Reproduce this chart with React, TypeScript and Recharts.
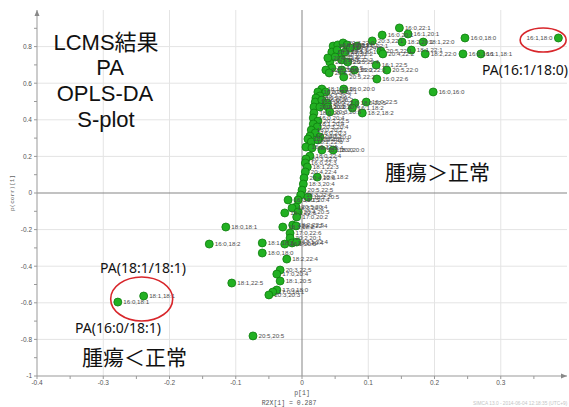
import React from 'react';
import { ScatterChart, Scatter, XAxis, YAxis, ReferenceLine, ReferenceDot } from 'recharts';

// lipid species (fatty acid pairs) of PA, in the order they are plotted
const lipidLabels = [
  '16:1,18:0', '16:0,18:0', '16:0,16:1', '16:1,18:1', '16:0,16:0',
  '16:0,22:1', '16:1,20:1', '16:0,20:1', '18:2,20:1', '18:1,22:0',
  '20:3,22:1', '18:1,22:1', '18:2,22:0', '20:5,22:1', '20:4,22:2',
  '16:1,22:5', '20:5,22:0', '16:0,22:6', '20:5,22:2', '16:0,22:2',
  '18:0,22:1', '20:4,20:1', '18:1,20:1', '20:3,22:0', '22:6,22:1',
  '18:2,22:1', '20:4,22:1', '18:0,22:2', '22:6,22:2', '20:4,22:5',
  '18:1,22:2', '20:3,22:4', '18:2,22:2', '22:5,22:1', '20:1,22:6',
  '18:0,20:1', '16:0,24:1', '22:6,20:4', '20:5,20:1', '18:0,20:0',
  '18:1,20:0', '16:0,20:0', '20:0,22:1', '18:2,20:2', '16:0,22:0',
  '18:1,20:2', '16:0,20:2', '18:0,22:0', '18:0,22:5', '16:0,22:5',
  '20:2,20:2', '18:1,20:3', '20:1,20:4', '16:1,18:2', '18:2,18:2',
  '18:0,20:3', '20:3,20:5', '16:0,20:4', '20:2,22:5', '18:1,20:4',
  '20:3,20:4', '18:0,20:2', '16:0,20:3', '18:2,20:3', '20:2,20:0',
  '18:0,22:6', '18:1,22:6', '20:4,20:3', '16:0,22:4', '18:1,22:4',
  '20:1,20:0', '18:2,20:0', '18:0,22:4', '20:3,22:3', '16:0,22:3',
  '18:1,22:3', '20:4,22:4', '18:0,18:2', '20:4,22:6', '18:3,20:4',
  '20:5,22:5', '18:3,22:6', '18:2,20:5', '16:1,20:4', '16:0,20:5',
  '20:5,20:4', '18:3,20:3', '16:1,22:6', '20:4,20:5', '17:0,20:2',
  '18:3,18:2', '18:2,22:5', '20:2,22:4', '17:0,22:6', '20:2,20:1',
  '16:1,20:5', '18:2,20:4', '17:1,22:4', '18:2,22:4', '18:1,18:2',
  '18:0,18:0', '20:3,22:5', '17:0,20:4', '18:1,20:5', '17:0,18:0',
  '17:0,18:1', '20:3,20:3', '18:0,18:1', '16:0,18:2', '18:1,22:5',
  '20:5,20:5', '18:1,18:1', '16:0,18:1',
];

// p[1]
const p1Values = [
  0.387, 0.246, 0.243, 0.270, 0.198,
  0.147, 0.160, 0.121, 0.151, 0.183,
  0.106, 0.165, 0.186, 0.119, 0.122,
  0.112, 0.128, 0.113, 0.063, 0.079,
  0.083, 0.047, 0.054, 0.062, 0.068,
  0.045, 0.053, 0.060, 0.042, 0.045,
  0.060, 0.069, 0.060, 0.050, 0.039,
  0.065, 0.073, 0.036, 0.041, 0.063,
  0.030, 0.024, 0.036, 0.027, 0.021,
  0.020, 0.030, 0.038, 0.080, 0.097,
  0.018, 0.027, 0.039, 0.076, 0.091,
  0.018, 0.042, 0.017, 0.024, 0.017,
  0.023, 0.014, 0.020, 0.012, 0.027,
  0.009, 0.014, 0.024, 0.006, 0.015,
  0.030, 0.047, 0.012, 0.006, 0.005,
  0.008, 0.005, 0.023, 0.003, 0.002,
  0.000, -0.002, 0.009, -0.006, -0.021,
  -0.009, -0.015, -0.026, -0.006, -0.008,
  -0.029, -0.014, -0.009, -0.018, -0.018,
  -0.026, -0.015, -0.008, -0.023, -0.060,
  -0.060, -0.033, -0.038, -0.033, -0.038,
  -0.044, -0.050, -0.115, -0.140, -0.106,
  -0.074, -0.239, -0.278,
];

// p(corr)[1]
const pcorrValues = [
  0.847, 0.847, 0.760, 0.760, 0.552,
  0.902, 0.869, 0.863, 0.825, 0.825,
  0.831, 0.781, 0.760, 0.776, 0.760,
  0.699, 0.672, 0.623, 0.634, 0.672,
  0.803, 0.803, 0.809, 0.820, 0.809,
  0.770, 0.781, 0.760, 0.716, 0.683,
  0.727, 0.716, 0.672, 0.743, 0.738,
  0.770, 0.792, 0.672, 0.656, 0.568,
  0.568, 0.552, 0.552, 0.530, 0.519,
  0.497, 0.508, 0.492, 0.492, 0.497,
  0.470, 0.470, 0.470, 0.464, 0.437,
  0.437, 0.443, 0.410, 0.393, 0.377,
  0.361, 0.344, 0.328, 0.311, 0.306,
  0.295, 0.279, 0.290, 0.251, 0.246,
  0.235, 0.235, 0.202, 0.186, 0.164,
  0.142, 0.115, 0.087, 0.082, 0.049,
  0.016, -0.011, -0.022, -0.038, -0.038,
  -0.077, -0.082, -0.109, -0.104, -0.131,
  -0.186, -0.175, -0.180, -0.219, -0.246,
  -0.279, -0.273, -0.268, -0.361, -0.273,
  -0.328, -0.421, -0.443, -0.481, -0.530,
  -0.541, -0.557, -0.186, -0.279, -0.492,
  -0.781, -0.563, -0.596,
];

const xTicks = [-0.4, -0.35, -0.3, -0.25, -0.2, -0.15, -0.1, -0.05, 0, 0.05, 0.1, 0.15, 0.2, 0.25, 0.3, 0.35];
const yTicks = [-1, -0.9, -0.8, -0.7, -0.6, -0.5, -0.4, -0.3, -0.2, -0.1, 0, 0.1, 0.2, 0.3, 0.4, 0.5, 0.6, 0.7, 0.8, 0.9];
const xGrid = [-0.3, -0.2, -0.1, 0.1, 0.2, 0.3];
const yGrid = [-0.8, -0.6, -0.4, -0.2, 0.2, 0.4, 0.6, 0.8];

const data = lipidLabels.map((label, i) => ({ label, x: p1Values[i], y: pcorrValues[i] }));

const fmtX = (v: number) => (Math.round(v * 100) % 10 === 0 ? String(Math.round(v * 10) / 10) : '');
const fmtY = (v: number) => (Math.round(v * 10) % 2 === 0 ? String(Math.round(v * 10) / 10) : '');

const Dot = (props: any) => (
  <circle cx={props.cx} cy={props.cy} r={4} fill="#22b022" stroke="#0f7d0f" strokeWidth={0.8} />
);

const Tag = (props: any) => {
  // the right-most point gets its name on the left so it stays inside
  const left = props.payload.x > 0.35;
  return (
    <text
      x={left ? props.cx - 6 : props.cx + 5.5}
      y={props.cy + 2.2}
      fontSize={6.2}
      fill="#4d4d4d"
      textAnchor={left ? 'end' : 'start'}
    >
      {props.payload.label}
    </text>
  );
};

const ring = (rx: number, ry: number) => (props: any) => (
  <ellipse cx={props.cx} cy={props.cy} rx={rx} ry={ry} fill="none" stroke="#d8262b" strokeWidth={1.6} />
);

const arrowRight = (props: any) => (
  <polygon points={`${props.cx},${props.cy} ${props.cx - 6},${props.cy - 2.5} ${props.cx - 6},${props.cy + 2.5}`} fill="#888" />
);
const arrowUp = (props: any) => (
  <polygon points={`${props.cx},${props.cy} ${props.cx - 2.5},${props.cy + 6} ${props.cx + 2.5},${props.cy + 6}`} fill="#888" />
);

export default function App() {
  const big = { fontFamily: '"Liberation Sans", "Noto Sans CJK JP", sans-serif', fontSize: 22, fill: '#111' };
  const jp = { fontFamily: '"Noto Sans CJK JP", sans-serif', fontSize: 21, fill: '#111' };
  const pa = { fontFamily: '"Noto Sans", sans-serif', fontSize: 14, fill: '#111' };
  return (
    <div style={{ position: 'absolute', left: 0, top: 0, width: 569, height: 407, background: '#fff', fontFamily: '"Liberation Sans", Arial, sans-serif' }}>
      <ScatterChart width={569} height={407} margin={{ top: 10, right: 2, bottom: 0, left: 0 }}>
        <XAxis
          type="number"
          dataKey="x"
          domain={[-0.4, 0.4]}
          ticks={xTicks}
          interval={0}
          tickFormatter={fmtX}
          height={31}
          tickSize={3}
          tickMargin={1}
          axisLine={{ stroke: '#999' }}
          tickLine={{ stroke: '#999' }}
          tick={{ fontSize: 6.5, fill: '#555' }}
          allowDataOverflow
        />
        <YAxis
          type="number"
          dataKey="y"
          domain={[-1, 1]}
          ticks={yTicks}
          interval={0}
          tickFormatter={fmtY}
          width={37}
          tickSize={3}
          tickMargin={2}
          axisLine={{ stroke: '#999' }}
          tickLine={{ stroke: '#999' }}
          tick={{ fontSize: 6.5, fill: '#555' }}
          allowDataOverflow
        />
        {xGrid.map((v) => (
          <ReferenceLine key={'gx' + v} x={v} stroke="#e4e4e4" />
        ))}
        {yGrid.map((v) => (
          <ReferenceLine key={'gy' + v} y={v} stroke="#e4e4e4" />
        ))}
        <ReferenceLine x={0} stroke="#858585" />
        <ReferenceLine y={0} stroke="#858585" />
        <ReferenceDot x={0.4} y={-1} shape={arrowRight} ifOverflow="visible" />
        <ReferenceDot x={-0.4} y={1} shape={arrowUp} ifOverflow="visible" />
        <Scatter data={data} shape={Dot} isAnimationActive={false} />
        <Scatter data={data} shape={Tag} isAnimationActive={false} />
        <ReferenceDot x={-0.242} y={-0.579} shape={ring(31, 22)} ifOverflow="visible" />
        <ReferenceDot x={0.364} y={0.836} shape={ring(23, 12)} ifOverflow="visible" />
      </ScatterChart>
      <svg width={569} height={407} style={{ position: 'absolute', left: 0, top: 0, pointerEvents: 'none' }}>
        <text x={106} y={50} textAnchor="middle" {...big}>LCMS結果</text>
        <text x={110} y={75} textAnchor="middle" {...big}>PA</text>
        <text x={105} y={101} textAnchor="middle" {...big}>OPLS-DA</text>
        <text x={106} y={127} textAnchor="middle" {...big}>S-plot</text>
        <text x={385} y={180} {...jp}>腫瘍＞正常</text>
        <text x={82} y={365} {...jp}>腫瘍＜正常</text>
        <text x={482} y={75} {...pa}>PA(16:1/18:0)</text>
        <text x={100} y={273} {...pa}>PA(18:1/18:1)</text>
        <text x={75} y={333} {...pa}>PA(16:0/18:1)</text>
        <text x={14} y={193} transform="rotate(-90 14 193)" textAnchor="middle" fontSize={6} fill="#666" fontFamily='"Liberation Mono", monospace'>p(corr)[1]</text>
        <text x={302} y={395} textAnchor="middle" fontSize={6.5} fill="#555" fontFamily='"Liberation Mono", monospace'>p[1]</text>
        <text x={289} y={405} textAnchor="middle" fontSize={6.5} fill="#555" fontFamily='"Liberation Mono", monospace'>R2X[1] = 0.287</text>
        <text x={473} y={405} fontSize={4.8} fill="#c4c4c4">SIMCA 13.0 - 2014-06-04 12:18:35 (UTC+9)</text>
      </svg>
    </div>
  );
}
